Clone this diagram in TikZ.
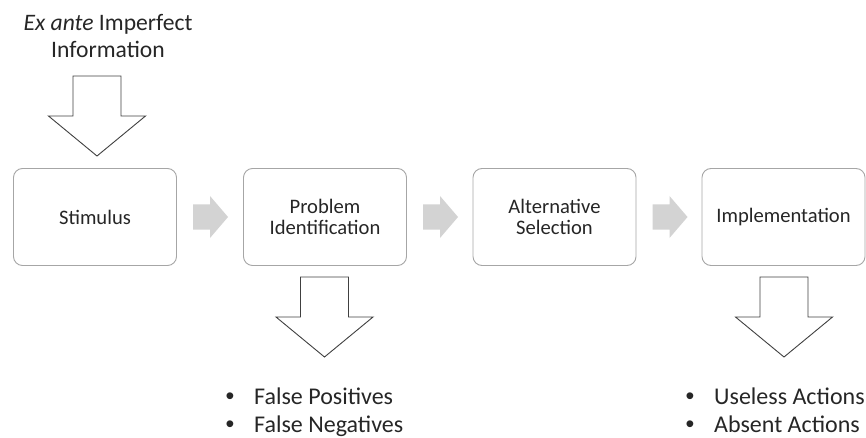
\documentclass[tikz,border=0pt]{standalone}
\usepackage{fontspec}
\setmainfont{Carlito}
\newfontfamily\bulletfont{Liberation Sans}
\definecolor{ink}{HTML}{262626}
\definecolor{boxline}{HTML}{A6A6A6}
\definecolor{flowfill}{HTML}{D3D3D3}
\definecolor{outline}{HTML}{404040}
\newcommand{\itembullet}{\makebox[26pt][l]{\hspace{-2.5pt}{\bulletfont\fontsize{25}{25}\selectfont •}}}
\tikzset{
  stage/.style={draw=boxline, line width=0.9pt, rounded corners=9pt, fill=white,
    minimum width=163pt, minimum height=97pt, inner sep=0pt, align=center,
    text=ink, font=\fontsize{20.6}{21.8}\selectfont},
  label/.style={inner sep=0pt, text=ink, align=center},
  listline/.style={inner sep=0pt, text=ink, anchor=base west,
    font=\fontsize{24}{28}\selectfont},
  flowarrow/.pic={
    \fill[flowfill] (0,-12.5) -- (17,-12.5) -- (17,-21) -- (35,0) -- (17,21)
      -- (17,12.5) -- (0,12.5) -- cycle;},
  hollowdown/.pic={
    \draw[outline, line width=0.9pt, fill=white, line join=miter]
      (-24,0) -- (24,0) -- (24,40) -- (48.5,40) -- (0,80) -- (-48.5,40)
      -- (-24,40) -- cycle;},
}
\begin{document}
\begin{tikzpicture}[x=1pt, y=-1pt]
  \useasboundingbox (0,0) rectangle (866,438);

  % process stages
  \node[stage] (stim) at (95,217) {Stimulus};
  \node[stage] (ident) at (325,217) {Problem\\Identification};
  \node[stage] (select) at (554.5,217) {Alternative\\Selection};
  \node[stage] (impl) at (783.5,217) {Implementation};

  % flow arrows between stages
  \pic at (193,217) {flowarrow};
  \pic at (423,217) {flowarrow};
  \pic at (652.5,217) {flowarrow};

  % input on top
  \node[label, font=\fontsize{23.6}{28}\selectfont] (info) at (108,36)
    {\textit{Ex ante} Imperfect\\Information};
  \pic at (97,76) {hollowdown};

  % outputs below
  \pic at (324.5,277) {hollowdown};
  \pic at (784,277) {hollowdown};

  \node[listline] (fp) at (228,404.5) {\itembullet False Positives};
  \node[listline] (fn) at (228,432) {\itembullet False Negatives};
  \node[listline] (ua) at (688,404.5) {\itembullet Useless Actions};
  \node[listline] (aa) at (688,432) {\itembullet Absent Actions};
\end{tikzpicture}
\end{document}
